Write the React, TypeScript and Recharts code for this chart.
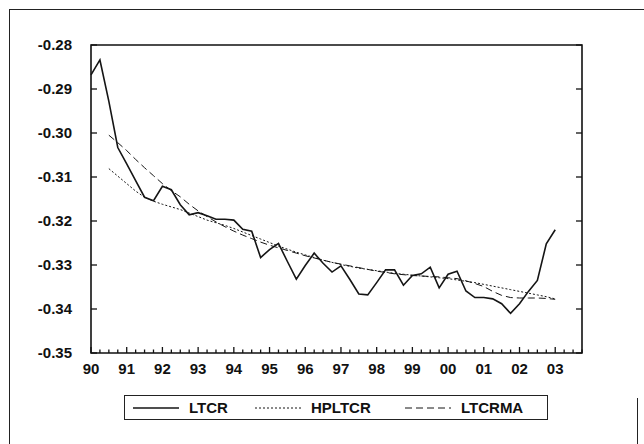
import React from 'react';
import { LineChart, Line, XAxis, YAxis, ReferenceArea } from 'recharts';

// quarterly, 1990Q1 .. 2003Q1 (index 0..52); axis runs to 2003Q4 (55)
const YEAR_LABELS = ['90', '91', '92', '93', '94', '95', '96', '97', '98', '99', '00', '01', '02', '03'];
const Y_TICKS = [-0.35, -0.34, -0.33, -0.32, -0.31, -0.30, -0.29, -0.28];

const LTCR = [
    -0.2868, -0.2834, -0.2928, -0.3033, -0.3070, -0.3108, -0.3146, -0.3154,
    -0.3121, -0.3129, -0.3163, -0.3186, -0.3181, -0.3188, -0.3196, -0.3196,
    -0.3198, -0.3219, -0.3223, -0.3283, -0.3265, -0.3251, -0.3292, -0.3332,
    -0.3301, -0.3273, -0.3296, -0.3316, -0.3302, -0.3333, -0.3366, -0.3368,
    -0.3340, -0.3311, -0.3311, -0.3346, -0.3324, -0.3320, -0.3305, -0.3352,
    -0.3321, -0.3314, -0.3359, -0.3374, -0.3374, -0.3377, -0.3388, -0.3410,
    -0.3388, -0.3360, -0.3335, -0.3252, -0.3220,
];

const HPLTCR = [
    null, null, -0.3081, -0.3098, -0.3115, -0.3132, -0.3146, -0.3155,
    -0.3162, -0.3168, -0.3174, -0.3182, -0.3190, -0.3198, -0.3204, -0.3210,
    -0.3217, -0.3225, -0.3233, -0.3241, -0.3249, -0.3257, -0.3264, -0.3271,
    -0.3277, -0.3283, -0.3289, -0.3294, -0.3299, -0.3303, -0.3307, -0.3310,
    -0.3313, -0.3316, -0.3319, -0.3321, -0.3323, -0.3325, -0.3327, -0.3329,
    -0.3331, -0.3334, -0.3337, -0.3340, -0.3344, -0.3348, -0.3352, -0.3356,
    -0.3360, -0.3364, -0.3368, -0.3372, -0.3377,
];

const LTCRMA = [
    null, null, -0.3005, -0.3022, -0.3040, -0.3060, -0.3079, -0.3097,
    -0.3115, -0.3131, -0.3145, -0.3162, -0.3177, -0.3190, -0.3202, -0.3213,
    -0.3223, -0.3232, -0.3240, -0.3248, -0.3255, -0.3261, -0.3267, -0.3273,
    -0.3279, -0.3284, -0.3289, -0.3294, -0.3298, -0.3302, -0.3306, -0.3310,
    -0.3314, -0.3317, -0.3320, -0.3322, -0.3324, -0.3325, -0.3326, -0.3327,
    -0.3329, -0.3331, -0.3336, -0.3342, -0.3349, -0.3360, -0.3369, -0.3374,
    -0.3375, -0.3375, -0.3375, -0.3376, -0.3378,
];

const SERIES = [
    { key: 'LTCR', width: 1.6, dash: undefined },
    { key: 'HPLTCR', width: 1, dash: '2 2' },
    { key: 'LTCRMA', width: 1, dash: '7 4' },
];

const data = LTCR.map((v, i) => ({ i, LTCR: v, HPLTCR: HPLTCR[i], LTCRMA: LTCRMA[i] }));
const QUARTER_TICKS = Array.from({ length: 56 }, (_, i) => i);

const PLOT = { left: 91, top: 45, right: 582, bottom: 353 };
const FONT = '"Liberation Sans", Arial, sans-serif';
const AXIS_W = 40;
const AXIS_H = 30;

const renderXTick = (props: any) => {
    const { x, payload } = props;
    const q = payload.value;
    const major = q % 4 === 0;
    return (
        <g key={`xt-${q}`}>
            <line x1={x} x2={x} y1={PLOT.bottom} y2={PLOT.bottom - (major ? 6 : 3.5)} stroke="#111" strokeWidth={1.3} />
            {major && (
                <text x={x} y={PLOT.bottom + 21} textAnchor="middle" fontFamily={FONT} fontWeight="bold" fontSize={15} fill="#111">
                    {YEAR_LABELS[q / 4]}
                </text>
            )}
        </g>
    );
};

const renderYTick = (props: any) => {
    const { y, payload } = props;
    return (
        <g key={`yt-${payload.value}`}>
            <line x1={PLOT.left} x2={PLOT.left + 6} y1={y} y2={y} stroke="#111" strokeWidth={1.3} />
            <line x1={PLOT.right} x2={PLOT.right - 6} y1={y} y2={y} stroke="#111" strokeWidth={1.3} />
            <text x={72} y={y + 5} textAnchor="end" fontFamily={FONT} fontWeight="bold" fontSize={15} fill="#111">
                {Number(payload.value).toFixed(2)}
            </text>
        </g>
    );
};

export default function App() {
    return (
        <div style={{ position: 'absolute', left: 0, top: 0, width: 644, height: 444, background: '#fff', overflow: 'hidden' }}>
            {/* scanned page frame */}
            <div style={{ position: 'absolute', left: 9, top: 9, width: 640, height: 440, borderLeft: '1.5px solid #222', borderTop: '1.5px solid #222' }} />
            <div style={{ position: 'absolute', left: 637, top: 398, width: 0, height: 46, borderLeft: '1.5px solid #222' }} />

            <div style={{ position: 'absolute', left: 0, top: 0 }}>
                <LineChart
                    width={644}
                    height={444}
                    data={data}
                    margin={{ top: PLOT.top, right: 644 - PLOT.right, bottom: 444 - PLOT.bottom - AXIS_H, left: PLOT.left - AXIS_W }}
                >
                    <ReferenceArea x1={0} x2={55} y1={-0.35} y2={-0.28} fill="none" stroke="#111" strokeWidth={1.6} />
                    <XAxis
                        dataKey="i"
                        type="number"
                        domain={[0, 55]}
                        ticks={QUARTER_TICKS}
                        interval={0}
                        height={AXIS_H}
                        axisLine={false}
                        tickLine={false}
                        tick={renderXTick}
                    />
                    <YAxis
                        type="number"
                        domain={[-0.35, -0.28]}
                        ticks={Y_TICKS}
                        interval={0}
                        width={AXIS_W}
                        axisLine={false}
                        tickLine={false}
                        tick={renderYTick}
                    />
                    {SERIES.map((s) => (
                        <Line
                            key={s.key}
                            type="linear"
                            dataKey={s.key}
                            stroke="#151515"
                            strokeWidth={s.width}
                            strokeDasharray={s.dash}
                            dot={false}
                            isAnimationActive={false}
                        />
                    ))}
                </LineChart>
            </div>

            {/* legend */}
            <div style={{ position: 'absolute', left: 124, top: 395, width: 422, height: 23, border: '1.5px solid #222' }}>
                {SERIES.map((s, idx) => (
                    <div key={s.key} style={{ position: 'absolute', left: [8, 130, 280][idx], top: 0, height: 23, display: 'flex', alignItems: 'center' }}>
                        <svg width={46} height={4}>
                            <line x1={0} x2={46} y1={2} y2={2} stroke="#151515" strokeWidth={s.width} strokeDasharray={s.dash} />
                        </svg>
                        <span style={{ marginLeft: 10, fontFamily: FONT, fontWeight: 'bold', fontSize: 15, color: '#111' }}>{s.key}</span>
                    </div>
                ))}
            </div>
        </div>
    );
}
